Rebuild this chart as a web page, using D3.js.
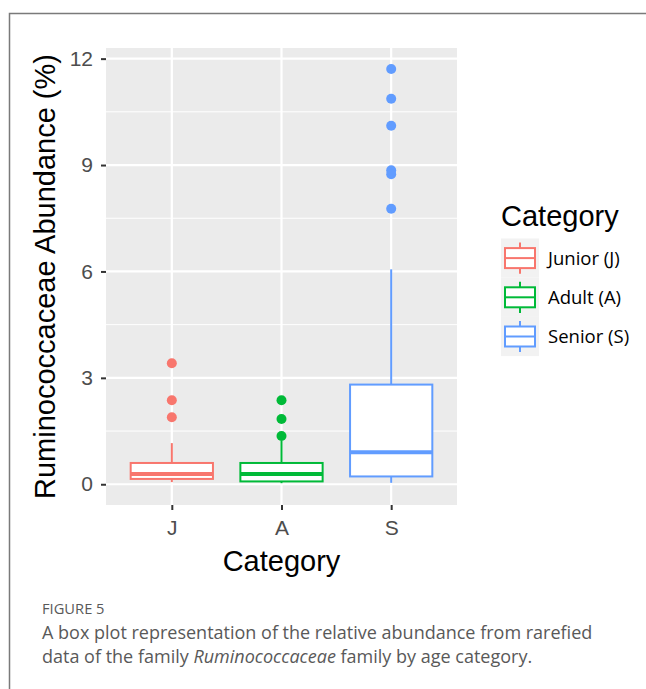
<!DOCTYPE html>
<html>
<head>
<meta charset="utf-8">
<script src="https://cdn.jsdelivr.net/npm/d3@7"></script>
<style>
  body { margin: 0; background: #fff; }
  svg { display: block; }
</style>
</head>
<body>
<script>
// data
var categories = ["J", "A", "S"];
var legendLabels = ["Junior (J)", "Adult (A)", "Senior (S)"];
var colors = ["#F8766D", "#00BA38", "#619CFF"];
// [lower whisker, q1, median, q3, upper whisker]
var boxStats = [
  [0.06, 0.15, 0.29, 0.60, 1.16],
  [0.03, 0.08, 0.29, 0.60, 1.23],
  [0.04, 0.22, 0.90, 2.81, 6.06]
];
var outliers = [
  [3.41, 2.37, 1.89],
  [2.37, 1.84, 1.36],
  [11.71, 10.87, 10.11, 8.85, 8.74, 7.77]
];
var yTicks = [0, 3, 6, 9, 12];
var yMinor = [1.5, 4.5, 7.5, 10.5];

var W = 646, H = 689;
var svg = d3.select("body").append("svg").attr("width", W).attr("height", H);

// journal frame (left + top rule)
svg.append("path")
    .attr("d", "M9.5," + H + "V13.5H" + W)
    .attr("fill", "none").attr("stroke", "#7a7a7a").attr("stroke-width", 1.5);

var panel = {left: 106, right: 457, top: 48, bottom: 505};
var font = "'Liberation Sans', Arial, sans-serif";

var x = d3.scalePoint().domain(categories).range([panel.left, panel.right]).padding(0.6);
var y = d3.scaleLinear().domain([-0.585, 12.3]).range([panel.bottom, panel.top]);
var bw = x.step() * 0.75;

var g = svg.append("g");
g.append("rect")
    .attr("x", panel.left).attr("y", panel.top)
    .attr("width", panel.right - panel.left).attr("height", panel.bottom - panel.top)
    .attr("fill", "#EBEBEB");

// grid
g.selectAll(".minor").data(yMinor).enter().append("line")
    .attr("x1", panel.left).attr("x2", panel.right)
    .attr("y1", function(d) { return y(d); }).attr("y2", function(d) { return y(d); })
    .attr("stroke", "#fff").attr("stroke-width", 1);
g.selectAll(".major").data(yTicks).enter().append("line")
    .attr("x1", panel.left).attr("x2", panel.right)
    .attr("y1", function(d) { return y(d); }).attr("y2", function(d) { return y(d); })
    .attr("stroke", "#fff").attr("stroke-width", 2.2);
g.selectAll(".vmajor").data(categories).enter().append("line")
    .attr("y1", panel.top).attr("y2", panel.bottom)
    .attr("x1", function(d) { return x(d); }).attr("x2", function(d) { return x(d); })
    .attr("stroke", "#fff").attr("stroke-width", 2.2);

// boxes
var box = g.selectAll(".box").data(categories).enter().append("g");
box.append("line")
    .attr("x1", function(d) { return x(d); }).attr("x2", function(d) { return x(d); })
    .attr("y1", function(d, i) { return y(boxStats[i][3]); })
    .attr("y2", function(d, i) { return y(boxStats[i][4]); })
    .attr("stroke", function(d, i) { return colors[i]; }).attr("stroke-width", 2);
box.append("line")
    .attr("x1", function(d) { return x(d); }).attr("x2", function(d) { return x(d); })
    .attr("y1", function(d, i) { return y(boxStats[i][0]); })
    .attr("y2", function(d, i) { return y(boxStats[i][1]); })
    .attr("stroke", function(d, i) { return colors[i]; }).attr("stroke-width", 2);
box.append("rect")
    .attr("x", function(d) { return x(d) - bw / 2; })
    .attr("width", bw)
    .attr("y", function(d, i) { return y(boxStats[i][3]); })
    .attr("height", function(d, i) { return y(boxStats[i][1]) - y(boxStats[i][3]); })
    .attr("fill", "#fff")
    .attr("stroke", function(d, i) { return colors[i]; }).attr("stroke-width", 2);
box.append("line")
    .attr("x1", function(d) { return x(d) - bw / 2; }).attr("x2", function(d) { return x(d) + bw / 2; })
    .attr("y1", function(d, i) { return y(boxStats[i][2]); })
    .attr("y2", function(d, i) { return y(boxStats[i][2]); })
    .attr("stroke", function(d, i) { return colors[i]; }).attr("stroke-width", 4);
box.each(function(d, i) {
  d3.select(this).selectAll("circle").data(outliers[i]).enter().append("circle")
      .attr("cx", x(d)).attr("cy", function(v) { return y(v); })
      .attr("r", 5).attr("fill", colors[i]);
});

// axes
var yAxis = svg.append("g")
    .attr("transform", "translate(" + panel.left + ",0)")
    .call(d3.axisLeft(y).tickValues(yTicks).tickSize(5).tickPadding(8));
var xAxis = svg.append("g")
    .attr("transform", "translate(0," + panel.bottom + ")")
    .call(d3.axisBottom(x).tickSize(5).tickPadding(10));
[yAxis, xAxis].forEach(function(a) {
  a.select(".domain").remove();
  a.selectAll(".tick line").attr("stroke", "#333").attr("stroke-width", 2);
  a.selectAll(".tick text").attr("fill", "#4d4d4d")
      .style("font-family", font).style("font-size", "21px");
});

svg.append("text")
    .attr("x", x("A")).attr("y", 571)
    .attr("text-anchor", "middle")
    .style("font-family", font).style("font-size", "29px")
    .text("Category");
svg.append("text")
    .attr("transform", "translate(55," + ((panel.top + panel.bottom) / 2) + ") rotate(-90)")
    .attr("text-anchor", "middle")
    .style("font-family", font).style("font-size", "29px")
    .text("Ruminococcaceae Abundance (%)");

// legend
var lg = svg.append("g").attr("transform", "translate(501,0)");
lg.append("text")
    .attr("x", 0).attr("y", 226)
    .style("font-family", font).style("font-size", "29px")
    .text("Category");
var key = lg.selectAll(".key").data(legendLabels).enter().append("g")
    .attr("transform", function(d, i) { return "translate(0," + (238.5 + i * 39.2) + ")"; });
key.append("rect").attr("width", 38).attr("height", 39.2).attr("fill", "#F2F2F2");
key.append("line").attr("x1", 19).attr("x2", 19).attr("y1", 4).attr("y2", 35.2)
    .attr("stroke", function(d, i) { return colors[i]; }).attr("stroke-width", 2);
key.append("rect").attr("x", 4).attr("y", 9.6).attr("width", 30).attr("height", 20)
    .attr("fill", "#fff")
    .attr("stroke", function(d, i) { return colors[i]; }).attr("stroke-width", 2);
key.append("line").attr("x1", 4).attr("x2", 34).attr("y1", 19.6).attr("y2", 19.6)
    .attr("stroke", function(d, i) { return colors[i]; }).attr("stroke-width", 2);
key.append("text")
    .attr("x", 47).attr("y", 26)
    .style("font-family", "'Open Sans', 'DejaVu Sans', sans-serif").style("font-size", "18.5px")
    .text(function(d) { return d; });

// caption
var cap = svg.append("g").style("font-family", "'Open Sans', sans-serif").attr("fill", "#595959");
cap.append("text").attr("x", 42).attr("y", 614).style("font-size", "14.7px").text("FIGURE 5");
cap.append("text").attr("x", 42).attr("y", 639).style("font-size", "18px")
    .text("A box plot representation of the relative abundance from rarefied");
var l2 = cap.append("text").attr("x", 42).attr("y", 663).style("font-size", "18px");
l2.append("tspan").text("data of the family ");
l2.append("tspan").style("font-style", "italic").text("Ruminococcaceae");
l2.append("tspan").text(" family by age category.");
</script>
</body>
</html>
